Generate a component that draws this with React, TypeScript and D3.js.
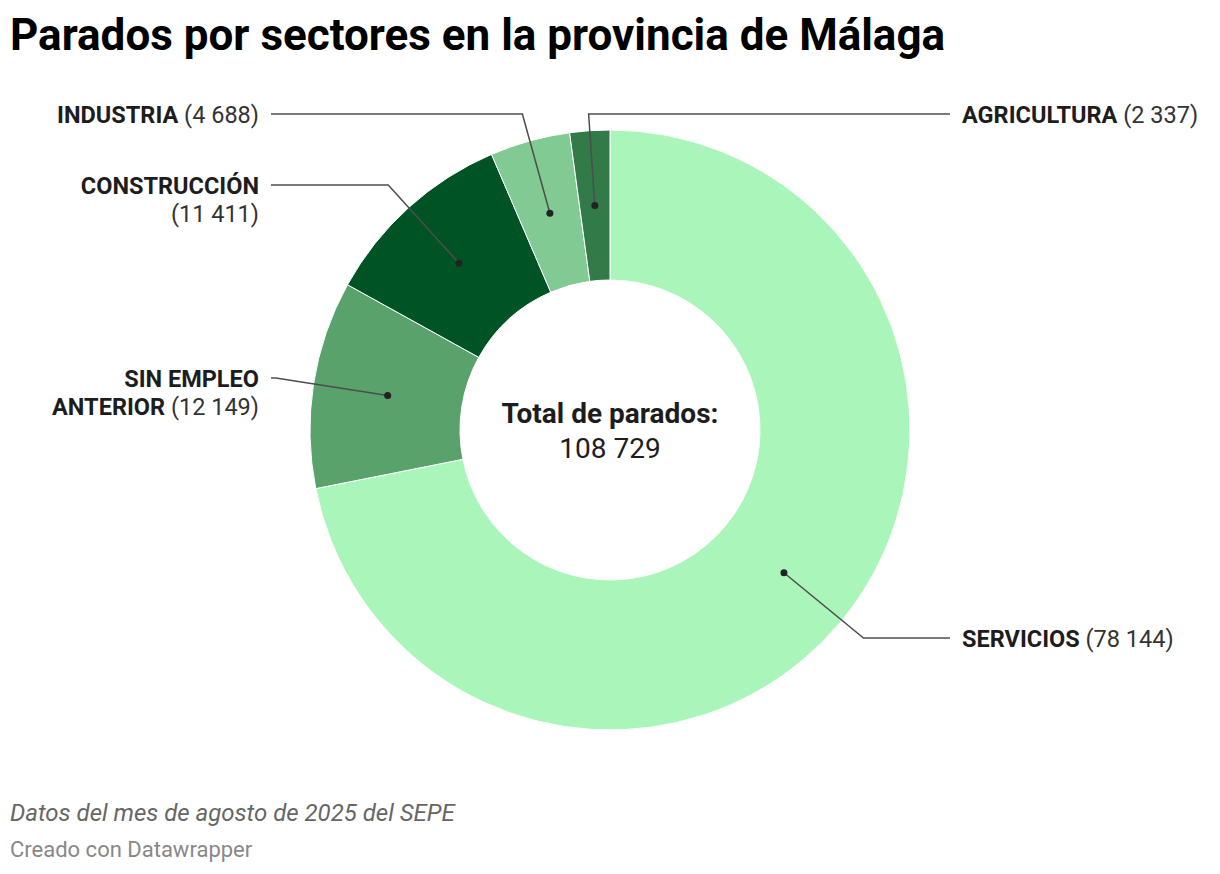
import React, { useRef, useEffect } from 'react';
import * as d3 from 'd3';

// ── Data ──────────────────────────────────────────────────────────────────────
const SECTORS = ['SERVICIOS', 'SIN EMPLEO ANTERIOR', 'CONSTRUCCIÓN', 'INDUSTRIA', 'AGRICULTURA'];
const PARADOS = [78144, 12149, 11411, 4688, 2337];
const COLORS = ['#a9f5ba', '#5aa26c', '#005324', '#82ca93', '#327a48'];

// label text rows (bold part / value part per row) and side
const LABEL_ROWS: [string, string][][] = [
  [['SERVICIOS', ' (78 144)']],
  [['SIN EMPLEO', ''], ['ANTERIOR', ' (12 149)']],
  [['CONSTRUCCIÓN', ''], ['', '(11 411)']],
  [['INDUSTRIA', ' (4 688)']],
  [['AGRICULTURA', ' (2 337)']],
];
const LABEL_SIDE = ['right', 'left', 'left', 'left', 'right'];
const LABEL_Y = [638, 378, 185, 114, 114];

const W = 1220;
const H = 874;
const FONT = 'Roboto, "Noto Sans", sans-serif';

const fmt = (n: number) => d3.format(',')(n).replace(/,/g, ' ');

export default function App() {
  const svgRef = useRef<SVGSVGElement>(null);

  useEffect(() => {
    if (!svgRef.current) return;
    const svg = d3.select(svgRef.current);
    svg.selectAll('*').remove();

    const cx = 610;
    const cy = 430;
    const outerR = 300;
    const innerR = 150;
    const total = d3.sum(PARADOS);

    // ── Title ─────────────────────────────────────────────────────────────────
    svg.append('text')
      .attr('x', 10).attr('y', 50)
      .attr('font-family', FONT).attr('font-weight', 700).attr('font-size', 44)
      .attr('fill', '#000')
      .text('Parados por sectores en la provincia de Málaga');

    // ── Donut ─────────────────────────────────────────────────────────────────
    const pie = d3.pie<number>().sort(null).value(d => d);
    const arcs = pie(PARADOS);
    const arc = d3.arc<d3.PieArcDatum<number>>().innerRadius(innerR).outerRadius(outerR);
    const mid = d3.arc<d3.PieArcDatum<number>>().innerRadius(225).outerRadius(225);

    const g = svg.append('g').attr('transform', `translate(${cx},${cy})`);
    g.selectAll('path.slice').data(arcs).join('path')
      .attr('class', 'slice')
      .attr('d', arc)
      .attr('fill', (_, i) => COLORS[i])
      .attr('stroke', '#fff').attr('stroke-width', 1);

    // ── Leader lines & labels ─────────────────────────────────────────────────
    arcs.forEach((a, i) => {
      const [px, py] = mid.centroid(a);
      const ang = (a.startAngle + a.endAngle) / 2;
      const dx = Math.sin(ang);
      const dy = -Math.cos(ang);
      const ly = LABEL_Y[i] - cy;
      const t = (ly - py) / dy;
      const ex = px + dx * t;
      const side = LABEL_SIDE[i];
      const endX = side === 'left' ? 271 - cx : 950 - cx;

      g.append('path')
        .attr('d', d3.line()([[px, py], [ex, ly], [endX, ly]]))
        .attr('fill', 'none').attr('stroke', '#4d4d4d').attr('stroke-width', 1.5);
      g.append('circle').attr('cx', px).attr('cy', py).attr('r', 3.5).attr('fill', '#222');

      const rows = LABEL_ROWS[i];
      const tx = side === 'left' ? 259 : 962;
      rows.forEach(([b, v], j) => {
        const text = svg.append('text')
          .attr('x', tx).attr('y', LABEL_Y[i] + 9 + j * 28)
          .attr('text-anchor', side === 'left' ? 'end' : 'start')
          .attr('font-family', FONT).attr('font-size', 23.5).attr('fill', '#1d1d1d');
        if (b) text.append('tspan').attr('font-weight', 700).text(b);
        if (v) text.append('tspan').attr('fill', '#333').text(v);
      });
    });

    // ── Center text ───────────────────────────────────────────────────────────
    svg.append('text')
      .attr('x', cx).attr('y', 423).attr('text-anchor', 'middle')
      .attr('font-family', FONT).attr('font-weight', 700).attr('font-size', 28).attr('fill', '#1d1d1d')
      .text('Total de parados:');
    svg.append('text')
      .attr('x', cx).attr('y', 458).attr('text-anchor', 'middle')
      .attr('font-family', FONT).attr('font-size', 28).attr('fill', '#1d1d1d')
      .text(fmt(total));

    // ── Footer ────────────────────────────────────────────────────────────────
    svg.append('text')
      .attr('x', 10).attr('y', 821)
      .attr('font-family', FONT).attr('font-style', 'italic').attr('font-size', 24).attr('fill', '#666')
      .text('Datos del mes de agosto de 2025 del SEPE');
    svg.append('text')
      .attr('x', 10).attr('y', 857)
      .attr('font-family', FONT).attr('font-size', 22).attr('fill', '#888')
      .text('Creado con Datawrapper');
  }, []);

  return (
    <div style={{ position: 'absolute', left: 0, top: 0, background: '#fff' }}>
      <svg ref={svgRef} width={W} height={H} style={{ display: 'block' }} />
    </div>
  );
}
